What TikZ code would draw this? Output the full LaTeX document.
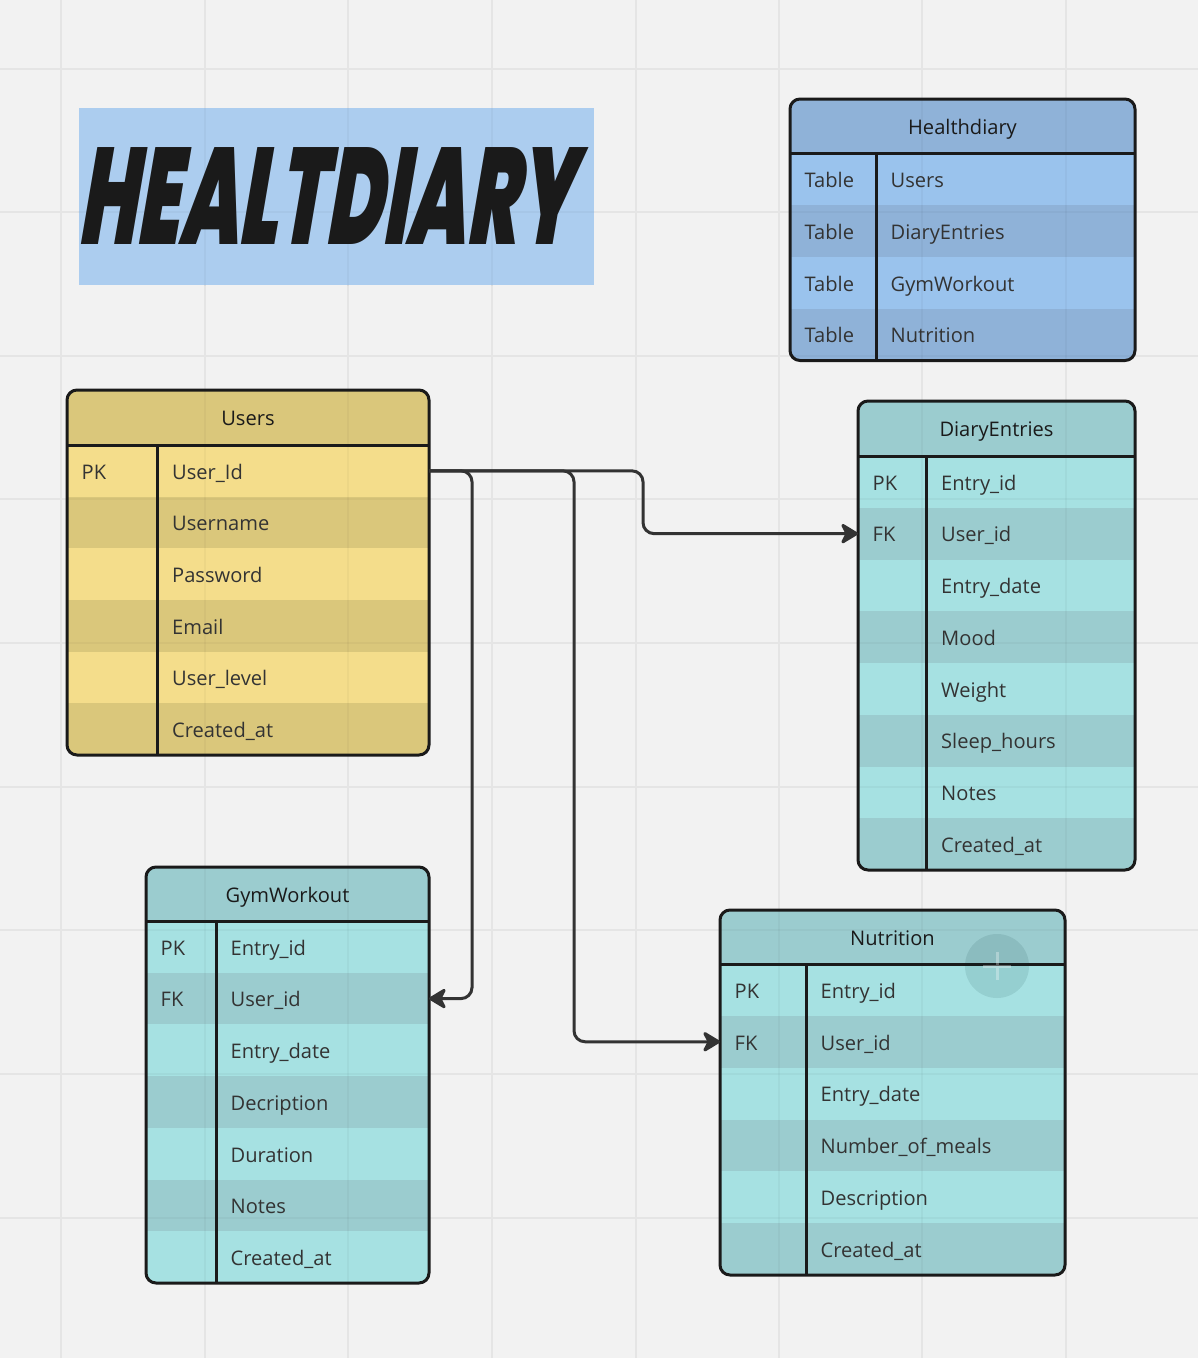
\documentclass[tikz,border=0pt]{standalone}
\usepackage{fontspec}
\setmainfont{Open Sans}
\newfontfamily\titlefont{Poppins Black}
\usetikzlibrary{arrows.meta,calc}
\definecolor{canvas}{HTML}{F2F2F2}
\definecolor{gridc}{HTML}{E5E5E5}
\definecolor{ink}{HTML}{1A1A1A}
\definecolor{wire}{HTML}{333333}
\definecolor{banner}{HTML}{ACCDEF}
\definecolor{blueL}{HTML}{9AC3ED}
\definecolor{blueD}{HTML}{8FB2D8}
\definecolor{yelL}{HTML}{F4DD8B}
\definecolor{yelD}{HTML}{DAC77B}
\definecolor{tealL}{HTML}{A6E1E2}
\definecolor{tealD}{HTML}{9BCCCF}
\tikzset{
  gridline/.style={draw=gridc,line width=2pt},
  gridover/.style={draw=black,opacity=.03,line width=2pt},
  cell/.style={anchor=north west,inner sep=0pt,outer sep=0pt,draw=none},
  celltext/.style={anchor=base west,inner sep=0pt,text=wire,font=\fontsize{20.1}{24}\selectfont},
  headtext/.style={anchor=base,inner sep=0pt,text=ink,font=\fontsize{20.1}{24}\selectfont},
  rule/.style={draw=ink,line width=3pt},
  outline/.style={draw=ink,line width=3pt,rounded corners=10pt},
  link/.style={draw=wire,line width=3pt,rounded corners=11pt,-{Stealth[length=20pt,width=24pt,inset=6pt,round]}},
}
\newcommand\gridlinesover{%
  \foreach \gx in {61,205,348,492,636,779,922,1066} \draw[gridover] (\gx,0) -- (\gx,1358);
  \foreach \gy in {69,212,356,499,643,787,930,1074,1218} \draw[gridover] (0,\gy) -- (1198,\gy);
}
% #1 name, #2 x1, #3 x2, #4 xdiv, #5 ytop, #6 yhead, #7 ybottom, #8 title, #9 light/dark/rows
\newcommand\erdtable[9]{%
  \def\tL{#2}\def\tR{#3}\def\tD{#4}\def\tT{#5}\def\tH{#6}\def\tB{#7}%
  \erdbody{#1}{#8}#9%
}
\newcommand\erdbody[5]{%  name, title, light, dark, rows
  \pgfmathsetmacro\tW{\tR-\tL}%
  \begin{scope}
    \clip[rounded corners=10pt] (\tL,\tT) rectangle (\tR,\tB);
    \pgfmathsetmacro\tHh{\tH-\tT}%
    \node[cell,fill=#4,minimum width=\tW pt,minimum height=\tHh pt] (#1-head) at (\tL,\tT) {};
    \foreach \k/\v [count=\i] in {#5}{%
      \pgfmathsetmacro\rowh{(\tB-\tH)/\nrows}%
      \pgfmathsetmacro\rowy{\tH+(\i-1)*\rowh}%
      \pgfmathtruncatemacro\odd{mod(\i,2)}%
      \ifnum\odd=1 \def\rowc{#3}\else\def\rowc{#4}\fi
      \node[cell,fill=\rowc,minimum width=\tW pt,minimum height=\rowh pt] (#1-\i) at (\tL,\rowy) {};
    }
    \gridlinesover
  \end{scope}
  \pgfmathsetmacro\hx{(\tL+\tR)/2}%
  \pgfmathsetmacro\hy{(\tT+\tH)/2+8.3}%
  \node[headtext] (#1-title) at (\hx,\hy) {#2};
  \foreach \k/\v [count=\i] in {#5}{%
    \pgfmathsetmacro\rowh{(\tB-\tH)/\nrows}%
    \pgfmathsetmacro\rowy{\tH+(\i-0.5)*\rowh+8.3}%
    \pgfmathsetmacro\kx{\tL+14.5}%
    \pgfmathsetmacro\vx{\tD+14.5}%
    \node[celltext] (#1-k\i) at (\kx,\rowy) {\k\strut};
    \node[celltext] (#1-v\i) at (\vx,\rowy) {\v\strut};
  }
  \draw[rule] (\tL,\tH) -- (\tR,\tH);
  \draw[rule] (\tD,\tH) -- (\tD,\tB);
  \draw[outline] (\tL,\tT) rectangle (\tR,\tB);
}
\begin{document}
\begin{tikzpicture}[x=1pt,y=-1pt]
\useasboundingbox (0,0) rectangle (1198,1358);
\fill[canvas] (0,0) rectangle (1198,1358);
\foreach \gx in {61,205,348,492,636,779,922,1066} \draw[gridline] (\gx,0) -- (\gx,1358);
\foreach \gy in {69,212,356,499,643,787,930,1074,1218} \draw[gridline] (0,\gy) -- (1198,\gy);

\begin{scope}
  \clip (78.5,108) rectangle (594,285);
  \node[cell,fill=banner,minimum width=515.5pt,minimum height=177pt] (banner) at (78.5,108) {};
  \gridlinesover
\end{scope}
\node[inner sep=0pt,text=ink,font=\titlefont\fontsize{128}{128}\selectfont,xslant=.17,xscale=.6,yscale=1.07,transform shape] (title) at (333.5,196) {HEALTDIARY};

\def\nrows{4}
\erdtable{health}{790}{1135}{876}{99}{153.5}{360.5}{Healthdiary}{{blueL}{blueD}{Table/Users,Table/DiaryEntries,Table/GymWorkout,Table/Nutrition}}
\def\nrows{6}
\erdtable{users}{67}{429}{157.5}{390}{445}{755}{Users}{{yelL}{yelD}{PK/User\_Id,/Username,/Password,/Email,/User\_level,/Created\_at}}
\def\nrows{8}
\erdtable{diary}{858}{1135}{926.5}{401}{456}{870}{DiaryEntries}{{tealL}{tealD}{PK/Entry\_id,FK/User\_id,/Entry\_date,/Mood,/Weight,/Sleep\_hours,/Notes,/Created\_at}}
\def\nrows{7}
\erdtable{gym}{146}{429}{216}{867}{921}{1283}{GymWorkout}{{tealL}{tealD}{PK/Entry\_id,FK/User\_id,/Entry\_date,/Decription,/Duration,/Notes,/Created\_at}}
\def\nrows{6}
\erdtable{nutrition}{720}{1065}{806}{910}{964}{1275}{Nutrition}{{tealL}{tealD}{PK/Entry\_id,FK/User\_id,/Entry\_date,/Number\_of\_meals,/Description,/Created\_at}}

% connectors
\coordinate (bendA) at (643,0);
\coordinate (bendB) at (574,0);
\coordinate (bendC) at (472,0);
\draw[link] (users-1.east) -- (bendA |- users-1.east) -- (bendA |- diary-2.west) -- (diary-2.west);
\draw[link] (users-1.east) -- (bendB |- users-1.east) -- (bendB |- nutrition-2.west) -- (nutrition-2.west);
\draw[link] (users-1.east) -- (bendC |- users-1.east) -- (bendC |- gym-2.east) -- (gym-2.east);

% floating add button
\node[circle,fill=black!60!teal,fill opacity=.1,minimum size=64pt,inner sep=0pt] (addbtn) at (997,966) {};
\draw[white,opacity=.3,line width=3pt] ($(addbtn)+(-14,0)$) -- ($(addbtn)+(14,0)$) ($(addbtn)+(0,-14)$) -- ($(addbtn)+(0,14)$);
\end{tikzpicture}
\end{document}
